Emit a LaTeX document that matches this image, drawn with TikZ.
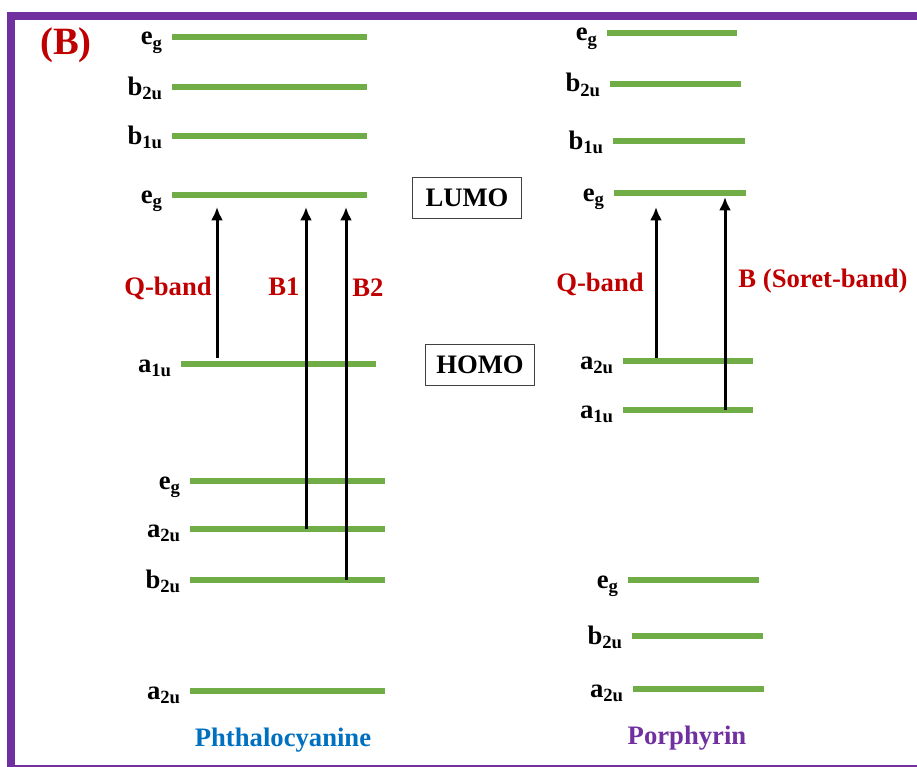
\documentclass[tikz,border=0pt]{standalone}
\usepackage{fontspec}
\setmainfont{Liberation Serif}
\usepackage{tikz}
\usetikzlibrary{arrows.meta,positioning,calc}

\definecolor{lvgreen}{RGB}{112,173,71}
\definecolor{framepurple}{RGB}{112,48,160}
\definecolor{bandred}{RGB}{192,0,0}
\definecolor{pcblue}{RGB}{0,112,192}

% one orbital level: name, left x, right x, y, label
\newcommand{\molevel}[5]{%
    \coordinate (#1-l) at (#2,#4);
    \coordinate (#1-r) at (#3,#4);
    \draw [level] (#1-l) -- (#1-r);
    \node [lvlabel] (#1-t) at ($(#1-l)+(-9,8)$) {#5};
}

\begin{document}
\begin{tikzpicture}[
    x=0.75pt, y=-0.75pt,
    level/.style={draw=lvgreen, line width=4.8pt},
    lvlabel/.style={anchor=base east, inner sep=0pt, font=\fontsize{20}{24}\selectfont\bfseries},
    band/.style={text=bandred, inner sep=0pt, font=\fontsize{20}{24}\selectfont\bfseries},
    orbbox/.style={draw=black!75, line width=0.8pt, minimum width=82pt, minimum height=31pt, font=\fontsize{20}{24}\selectfont\bfseries},
    trans/.style={draw=black, line width=2.25pt, -{Latex[length=10pt,width=9pt]}},
    title/.style={inner sep=0pt, font=\fontsize{20}{24}\selectfont\bfseries}
]
    \useasboundingbox (0,0) rectangle (917,767);
    % frame
    \draw [framepurple, line width=6pt] (11,767) -- (11,16) -- (917,16);
    \draw [framepurple, line width=1.5pt] (7,766) -- (917,766);

    \node [text=bandred, inner sep=0pt, font=\fontsize{29}{34}\selectfont\bfseries] (tag) at (66,45) {(B)};

    % phthalocyanine levels
    \molevel{pc1}{172}{367}{37}{e\textsubscript{g}}
    \molevel{pc2}{172}{367}{87}{b\textsubscript{2u}}
    \molevel{pc3}{172}{367}{136}{b\textsubscript{1u}}
    \molevel{pc4}{172}{367}{195}{e\textsubscript{g}}
    \molevel{pc5}{181}{376}{364}{a\textsubscript{1u}}
    \molevel{pc6}{190}{385}{481}{e\textsubscript{g}}
    \molevel{pc7}{190}{385}{529}{a\textsubscript{2u}}
    \molevel{pc8}{190}{385}{580}{b\textsubscript{2u}}
    \molevel{pc9}{190}{385}{691}{a\textsubscript{2u}}

    % porphyrin levels
    \molevel{pp1}{607}{737}{33}{e\textsubscript{g}}
    \molevel{pp2}{610}{741}{84}{b\textsubscript{2u}}
    \molevel{pp3}{613}{745}{141}{b\textsubscript{1u}}
    \molevel{pp4}{614}{746}{193}{e\textsubscript{g}}
    \molevel{pp5}{623}{753}{361}{a\textsubscript{2u}}
    \molevel{pp6}{623}{753}{410}{a\textsubscript{1u}}
    \molevel{pp7}{628}{759}{580}{e\textsubscript{g}}
    \molevel{pp8}{632}{763}{636}{b\textsubscript{2u}}
    \molevel{pp9}{633}{764}{689}{a\textsubscript{2u}}

    % transition ends
    \coordinate (qpcS) at (217,358);
    \coordinate (qpcE) at (217,207);
    \coordinate (b1S) at (306,529);
    \coordinate (b1E) at (306,207);
    \coordinate (b2S) at (346,580);
    \coordinate (b2E) at (346,207);
    \coordinate (qppS) at (656,358);
    \coordinate (qppE) at (656,207);
    \coordinate (sbS) at (725,410);
    \coordinate (sbE) at (725,197);

    \draw [trans] (qpcS) -- (qpcE);
    \draw [trans] (b1S) -- (b1E);
    \draw [trans] (b2S) -- (b2E);
    \draw [trans] (qppS) -- (qppE);
    \draw [trans] (sbS) -- (sbE);

    \node [band] (qpc) at (168,288) {Q-band};
    \node [band] (b1) at (284,287) {B1};
    \node [band] (b2) at (368,288) {B2};
    \node [band] (qpp) at (600,284) {Q-band};
    \node [band] (soret) at (823,281) {B (Soret-band)};

    \node [orbbox] (lumo) at (467,198) {LUMO};
    \node [orbbox] (homo) at (480,365) {HOMO};

    \node [title, text=pcblue] (pc) at (283,740) {Phthalocyanine};
    \node [title, text=framepurple] (pp) at (687,738) {Porphyrin};
\end{tikzpicture}
\end{document}
